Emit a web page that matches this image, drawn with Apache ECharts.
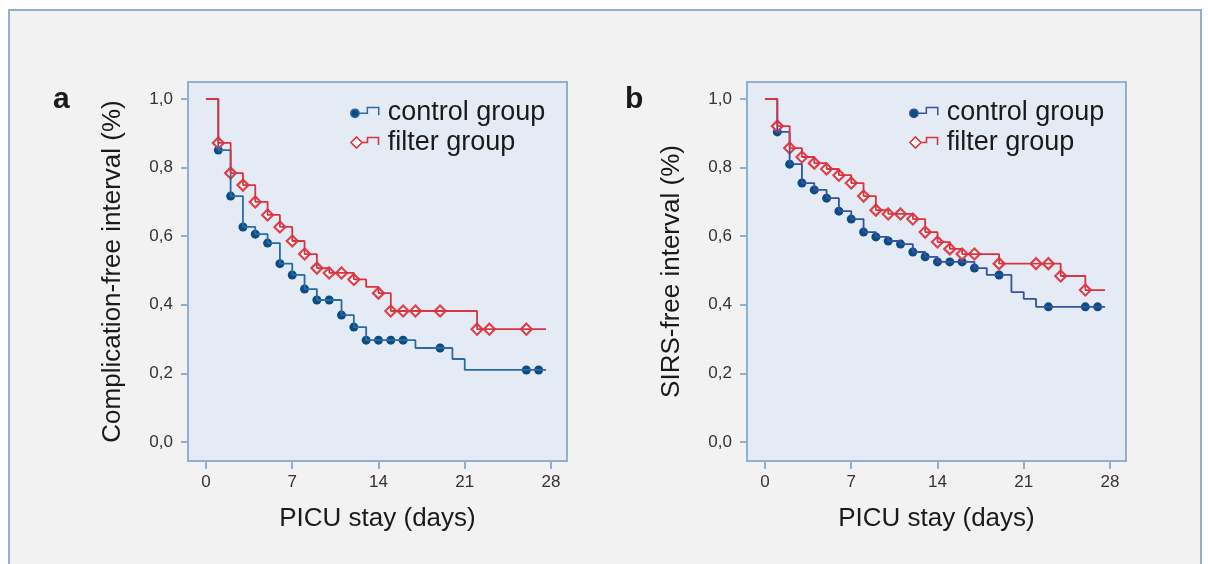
<!DOCTYPE html>
<html>
<head>
<meta charset="utf-8">
<title>PICU stay Kaplan-Meier</title>
<script src="https://cdn.jsdelivr.net/npm/echarts@6/dist/echarts.min.js"></script>
<style>
    html, body { margin: 0; padding: 0; background: #ffffff; }
    #frame {
        position: absolute; left: 8px; top: 9px; width: 1190px; height: 600px;
        border: 2px solid #8fb0d3; background: #f2f2f2;
    }
    #main_chart { position: absolute; left: 0; top: 0; width: 1208px; height: 564px; }
</style>
</head>
<body>
<div id="frame"></div>
<div id="main_chart"></div>
<script>
//横轴 / 纵轴刻度
var dayTicks = [0, 7, 14, 21, 28];
var rateTicks = [0, 0.2, 0.4, 0.6, 0.8, 1.0];

//a: Complication-free interval
var daysA_control = [0, 1, 2, 3, 4, 5, 6, 7, 8, 9, 11, 12, 13, 17, 20, 21, 27.6];
var rateA_control = [1.0, 0.851, 0.717, 0.627, 0.606, 0.58, 0.52, 0.487, 0.446, 0.414, 0.37, 0.335, 0.297, 0.274, 0.242, 0.21, 0.21];
var markA_control = [1, 2, 3, 4, 5, 6, 7, 8, 9, 10, 11, 12, 13, 14, 15, 16, 19, 26, 27];

var daysA_filter = [0, 1, 2, 3, 4, 5, 6, 7, 8, 9, 10, 12, 13, 14, 15, 22, 27.6];
var rateA_filter = [1.0, 0.872, 0.784, 0.749, 0.70, 0.662, 0.627, 0.586, 0.548, 0.507, 0.493, 0.474, 0.452, 0.434, 0.382, 0.329, 0.329];
var markA_filter = [1, 2, 3, 4, 5, 6, 7, 8, 9, 10, 11, 12, 14, 15, 16, 17, 19, 22, 23, 26];

//b: SIRS-free interval
var daysB_control = [0, 1, 2, 3, 4, 5, 6, 7, 8, 9, 10, 11, 12, 13, 14, 17, 18, 20, 21, 22, 27.6];
var rateB_control = [1.0, 0.904, 0.81, 0.755, 0.735, 0.711, 0.673, 0.65, 0.612, 0.598, 0.586, 0.577, 0.554, 0.54, 0.525, 0.507, 0.487, 0.437, 0.417, 0.394, 0.394];
var markB_control = [1, 2, 3, 4, 5, 6, 7, 8, 9, 10, 11, 12, 13, 14, 15, 16, 17, 19, 23, 26, 27];

var daysB_filter = [0, 1, 2, 3, 4, 5, 6, 7, 8, 9, 10, 12, 13, 14, 15, 16, 19, 24, 26, 27.6];
var rateB_filter = [1.0, 0.921, 0.857, 0.831, 0.813, 0.796, 0.778, 0.755, 0.717, 0.676, 0.665, 0.65, 0.612, 0.583, 0.563, 0.548, 0.52, 0.484, 0.443, 0.443];
var markB_filter = [1, 2, 3, 4, 5, 6, 7, 8, 9, 10, 11, 12, 13, 14, 15, 16, 17, 19, 22, 23, 24, 26];

var fontName = "'Liberation Sans', Arial, sans-serif";
var axisColor = '#8fb0d3';
var redColor = '#d9343f';
var dotColor = '#0b4d83';

//legend icons: marker + little step
var controlIcon = 'path://M0,6.5 A4,4 0 1,1 8,6.5 A4,4 0 1,1 0,6.5 Z M8,6.5 L16,6.5 L16,1 L27,1 L27,8.5 L27,1 L16,1 L16,6.5 Z';
var filterIcon = 'path://M5,0.5 L10.5,6 L5,11.5 L-0.5,6 Z M10.5,6 L16,6 L16,1 L27,1 L27,8.5 L27,1 L16,1 L16,6 Z';

function toPairs(days, rates){
    var out = [];
    for(var i = 0; i < days.length; i++){
        out.push([days[i], rates[i]]);
    }
    return out;
}
//marks sit on the step curve
function markPairs(marks, days, rates){
    var out = [];
    for(var i = 0; i < marks.length; i++){
        var v = rates[0];
        for(var j = 0; j < days.length; j++){
            if(days[j] <= marks[i]) v = rates[j];
        }
        out.push([marks[i], v]);
    }
    return out;
}
function fmtRate(v){
    return v.toFixed(1).replace('.', ',');
}

function makeGrid(left){
    return {
        left: left, top: 82, width: 379, height: 379,
        show: true, backgroundColor: '#e4ebf4',
        borderColor: axisColor, borderWidth: 2,
        containLabel: false, outerBoundsMode: 'none'
    };
}
function makeXAxis(idx){
    return {
        gridIndex: idx, type: 'value', min: -1.46, max: 29.3,
        name: 'PICU stay (days)', nameLocation: 'middle', nameGap: 45,
        nameTextStyle: { fontSize: 26, color: '#1a1a1a', fontFamily: fontName },
        axisLine: { show: true, onZero: false, lineStyle: { color: axisColor, width: 2 } },
        axisTick: { show: true, inside: false, length: 8, customValues: dayTicks, lineStyle: { color: axisColor, width: 2 } },
        axisLabel: { customValues: dayTicks, margin: 13, fontSize: 17, color: '#333', fontFamily: fontName },
        splitLine: { show: false }
    };
}
function makeYAxis(idx, title){
    return {
        gridIndex: idx, type: 'value', min: -0.0554, max: 1.0496,
        name: title, nameLocation: 'middle', nameGap: 62, nameRotate: 90,
        nameTextStyle: { fontSize: 26, color: '#1a1a1a', fontFamily: fontName },
        axisLine: { show: true, onZero: false, lineStyle: { color: axisColor, width: 2 } },
        axisTick: { show: true, inside: false, length: 7, customValues: rateTicks, lineStyle: { color: axisColor, width: 2 } },
        axisLabel: { customValues: rateTicks, margin: 15, fontSize: 17, color: '#333', fontFamily: fontName, formatter: fmtRate },
        splitLine: { show: false }
    };
}
function stepSeries(idx, name, data, color){
    return {
        name: name, type: 'line', step: 'end', xAxisIndex: idx, yAxisIndex: idx,
        data: data, showSymbol: false, symbol: 'none',
        lineStyle: { color: color, width: 1.8 }, itemStyle: { color: color },
        silent: true
    };
}
function controlMarks(idx, data){
    return {
        name: 'control group', type: 'scatter', xAxisIndex: idx, yAxisIndex: idx,
        data: data, symbol: 'circle', symbolSize: 9,
        itemStyle: { color: dotColor, opacity: 1 }, silent: true
    };
}
function filterMarks(idx, data){
    return {
        name: 'filter group', type: 'scatter', xAxisIndex: idx, yAxisIndex: idx,
        data: data, symbol: 'diamond', symbolSize: 11,
        itemStyle: { color: '#ffffff', borderColor: '#e0404e', borderWidth: 2.2, opacity: 1 }, silent: true
    };
}
function makeLegend(left, lineColor){
    return {
        left: left, top: 94, orient: 'vertical', itemGap: 3,
        itemWidth: 28, itemHeight: 11, selectedMode: false,
        textStyle: { fontSize: 27, color: '#1a1a1a', fontFamily: fontName, padding: [0, 0, 0, 4] },
        data: [
            { name: 'control group', icon: controlIcon, itemStyle: { color: dotColor, borderColor: lineColor, borderWidth: 1.5 } },
            { name: 'filter group', icon: filterIcon, itemStyle: { color: '#ffffff', borderColor: redColor, borderWidth: 1.6 } }
        ]
    };
}

var chart = echarts.init(document.getElementById('main_chart'), null, { renderer: 'canvas' });
var option = {
    animation: false,
    backgroundColor: 'transparent',
    title: [
        { text: 'a', left: 48, top: 80, textStyle: { fontSize: 30, fontWeight: 'bold', color: '#1a1a1a', fontFamily: fontName } },
        { text: 'b', left: 620, top: 80, textStyle: { fontSize: 30, fontWeight: 'bold', color: '#1a1a1a', fontFamily: fontName } }
    ],
    legend: [makeLegend(345, '#2b6aa3'), makeLegend(904, '#3352a3')],
    grid: [makeGrid(188), makeGrid(747)],
    xAxis: [makeXAxis(0), makeXAxis(1)],
    yAxis: [makeYAxis(0, 'Complication-free interval (%)'), makeYAxis(1, 'SIRS-free interval (%)')],
    series: [
        stepSeries(0, 'control group', toPairs(daysA_control, rateA_control), '#2b6aa3'),
        controlMarks(0, markPairs(markA_control, daysA_control, rateA_control)),
        stepSeries(0, 'filter group', toPairs(daysA_filter, rateA_filter), redColor),
        filterMarks(0, markPairs(markA_filter, daysA_filter, rateA_filter)),
        stepSeries(1, 'control group', toPairs(daysB_control, rateB_control), '#3352a3'),
        controlMarks(1, markPairs(markB_control, daysB_control, rateB_control)),
        stepSeries(1, 'filter group', toPairs(daysB_filter, rateB_filter), redColor),
        filterMarks(1, markPairs(markB_filter, daysB_filter, rateB_filter))
    ]
};
chart.setOption(option);
</script>
</body>
</html>
